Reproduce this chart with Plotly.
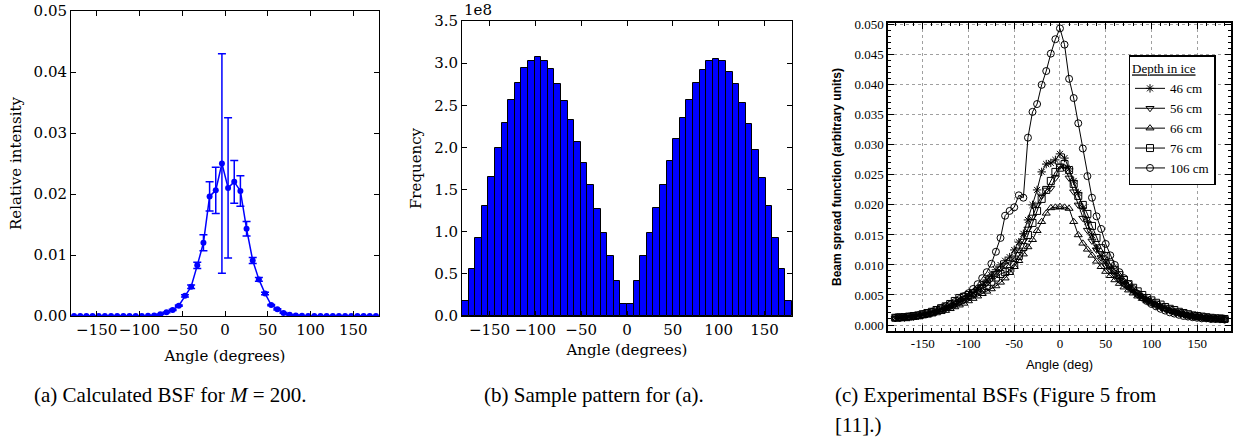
import plotly.graph_objects as go

# ---------------- Panel (a): calculated BSF ----------------
angle_bins = [-176.4, -169.2, -162.0, -154.8, -147.6, -140.4, -133.2, -126.0, -118.8, -111.6,
              -104.4, -97.2, -90.0, -82.8, -75.6, -68.4, -61.2, -54.0, -46.8, -39.6,
              -32.4, -25.2, -18.0, -10.8, -3.6, 3.6, 10.8, 18.0, 25.2, 32.4,
              39.6, 46.8, 54.0, 61.2, 68.4, 75.6, 82.8, 90.0, 97.2, 104.4,
              111.6, 118.8, 126.0, 133.2, 140.4, 147.6, 154.8, 162.0, 169.2, 176.4]

bsf_intensity = [0.0, 0.0, 0.0, 0.0, 0.0, 0.0, 0.0, 0.0, 0.0, 0.0,
                 0.0, 0.0, 0.00003, 0.0001, 0.0003, 0.0006, 0.0010, 0.0017, 0.0033, 0.0048,
                 0.0083, 0.0120, 0.0196, 0.0206, 0.0250, 0.0210, 0.0220, 0.0205, 0.0143, 0.0091,
                 0.0060, 0.0037, 0.0018, 0.0011, 0.0005, 0.0002, 0.0001, 0.00003, 0.0, 0.0,
                 0.0, 0.0, 0.0, 0.0, 0.0, 0.0, 0.0, 0.0, 0.0, 0.0]

bsf_error = [0.0, 0.0, 0.0, 0.0, 0.0, 0.0, 0.0, 0.0, 0.0, 0.0,
             0.0, 0.0, 0.0, 0.00002, 0.00004, 0.00006, 0.0001, 0.0001, 0.0002, 0.0003,
             0.0005, 0.0013, 0.0024, 0.0038, 0.0180, 0.0115, 0.0035, 0.0025, 0.0012, 0.0005,
             0.0003, 0.0002, 0.0001, 0.0001, 0.00006, 0.00004, 0.00002, 0.0, 0.0, 0.0,
             0.0, 0.0, 0.0, 0.0, 0.0, 0.0, 0.0, 0.0, 0.0, 0.0]

# ---------------- Panel (b): sample pattern (units of 1e8) ----------------
pattern_freq_1e8 = [0.18, 0.56, 0.93, 1.31, 1.65, 1.99, 2.29, 2.56, 2.77, 2.94,
                    3.02, 3.07, 3.02, 2.93, 2.75, 2.55, 2.32, 2.07, 1.82, 1.56,
                    1.27, 0.98, 0.71, 0.42, 0.14, 0.14, 0.42, 0.71, 0.98, 1.28,
                    1.56, 1.84, 2.10, 2.35, 2.56, 2.76, 2.92, 3.03, 3.05, 3.03,
                    2.90, 2.75, 2.53, 2.28, 1.97, 1.64, 1.30, 0.93, 0.56, 0.18]
bin_width = 7.2

# ---------------- Panel (c): experimental BSFs ----------------
exp_angles = [-180, -175, -170, -165, -160, -155, -150, -145, -140, -135,
              -130, -125, -120, -115, -110, -105, -100, -95, -90, -85,
              -80, -75, -70, -65, -60, -55, -50, -45, -40, -35,
              -30, -25, -20, -15, -10, -5, 0, 5, 10, 15,
              20, 25, 30, 35, 40, 45, 50, 55, 60, 65,
              70, 75, 80, 85, 90, 95, 100, 105, 110, 115,
              120, 125, 130, 135, 140, 145, 150, 155, 160, 165,
              170, 175, 180]

bsf_46cm = [0.0012, 0.0012, 0.0013, 0.0013, 0.0014, 0.0016, 0.0017, 0.0019, 0.0021, 0.0023,
            0.0026, 0.0028, 0.0031, 0.0035, 0.0039, 0.0043, 0.0048, 0.0054, 0.0060, 0.0067,
            0.0075, 0.0083, 0.0092, 0.0100, 0.0107, 0.0113, 0.0125, 0.0138, 0.0152, 0.0175,
            0.0200, 0.0225, 0.0255, 0.0268, 0.0270, 0.0275, 0.0285, 0.0278, 0.0260, 0.0240,
            0.0220, 0.0195, 0.0172, 0.0150, 0.0128, 0.0115, 0.0105, 0.0095, 0.0086, 0.0078,
            0.0071, 0.0065, 0.0058, 0.0052, 0.0047, 0.0043, 0.0039, 0.0035, 0.0031, 0.0028,
            0.0025, 0.0022, 0.0020, 0.0018, 0.0016, 0.0015, 0.0014, 0.0013, 0.0012, 0.0011,
            0.0011, 0.0010, 0.0010]

bsf_56cm = [0.0011, 0.0012, 0.0012, 0.0013, 0.0014, 0.0015, 0.0016, 0.0018, 0.0020, 0.0022,
            0.0024, 0.0027, 0.0030, 0.0033, 0.0037, 0.0041, 0.0046, 0.0051, 0.0057, 0.0063,
            0.0070, 0.0078, 0.0086, 0.0094, 0.0100, 0.0105, 0.0112, 0.0125, 0.0140, 0.0160,
            0.0180, 0.0200, 0.0215, 0.0225, 0.0228, 0.0245, 0.0265, 0.0262, 0.0245, 0.0222,
            0.0200, 0.0178, 0.0158, 0.0140, 0.0125, 0.0112, 0.0100, 0.0091, 0.0083, 0.0075,
            0.0068, 0.0062, 0.0056, 0.0050, 0.0045, 0.0041, 0.0037, 0.0033, 0.0030, 0.0027,
            0.0024, 0.0022, 0.0020, 0.0018, 0.0016, 0.0015, 0.0014, 0.0013, 0.0012, 0.0011,
            0.0011, 0.0010, 0.0010]

bsf_66cm = [0.0011, 0.0011, 0.0012, 0.0012, 0.0013, 0.0014, 0.0015, 0.0016, 0.0018, 0.0020,
            0.0022, 0.0024, 0.0027, 0.0030, 0.0033, 0.0036, 0.0040, 0.0044, 0.0048, 0.0052,
            0.0056, 0.0060, 0.0065, 0.0071, 0.0078, 0.0087, 0.0097, 0.0107, 0.0118, 0.0130,
            0.0142, 0.0157, 0.0172, 0.0186, 0.0195, 0.0196, 0.0197, 0.0196, 0.0194, 0.0172,
            0.0150, 0.0136, 0.0126, 0.0116, 0.0106, 0.0097, 0.0089, 0.0082, 0.0075, 0.0069,
            0.0063, 0.0058, 0.0053, 0.0048, 0.0044, 0.0040, 0.0036, 0.0033, 0.0030, 0.0027,
            0.0024, 0.0022, 0.0020, 0.0018, 0.0016, 0.0015, 0.0014, 0.0013, 0.0012, 0.0011,
            0.0010, 0.0010, 0.0009]

bsf_76cm = [0.0012, 0.0013, 0.0013, 0.0014, 0.0015, 0.0016, 0.0018, 0.0020, 0.0022, 0.0025,
            0.0028, 0.0031, 0.0035, 0.0040, 0.0045, 0.0047, 0.0050, 0.0053, 0.0057, 0.0061,
            0.0065, 0.0072, 0.0079, 0.0085, 0.0088, 0.0090, 0.0100, 0.0115, 0.0130, 0.0150,
            0.0170, 0.0190, 0.0210, 0.0225, 0.0240, 0.0255, 0.0262, 0.0268, 0.0258, 0.0235,
            0.0215, 0.0200, 0.0185, 0.0165, 0.0145, 0.0128, 0.0115, 0.0102, 0.0092, 0.0083,
            0.0075, 0.0068, 0.0062, 0.0056, 0.0050, 0.0045, 0.0041, 0.0037, 0.0034, 0.0030,
            0.0027, 0.0025, 0.0022, 0.0020, 0.0018, 0.0016, 0.0015, 0.0014, 0.0013, 0.0012,
            0.0011, 0.0011, 0.0010]

bsf_106cm = [0.0012, 0.0012, 0.0013, 0.0014, 0.0015, 0.0016, 0.0018, 0.0020, 0.0022, 0.0025,
             0.0028, 0.0031, 0.0034, 0.0038, 0.0043, 0.0048, 0.0053, 0.0060, 0.0068, 0.0078,
             0.0088, 0.0102, 0.0122, 0.0145, 0.0182, 0.0190, 0.0196, 0.0216, 0.0212, 0.0312,
             0.0355, 0.0368, 0.0400, 0.0423, 0.0452, 0.0476, 0.0494, 0.0467, 0.0410, 0.0378,
             0.0336, 0.0294, 0.0248, 0.0212, 0.0181, 0.0160, 0.0135, 0.0116, 0.0100, 0.0088,
             0.0078, 0.0068, 0.0060, 0.0052, 0.0046, 0.0040, 0.0035, 0.0031, 0.0027, 0.0024,
             0.0021, 0.0019, 0.0017, 0.0015, 0.0014, 0.0013, 0.0012, 0.0011, 0.0011, 0.0010,
             0.0010, 0.0010, 0.0009]

depth_labels = ["46 cm", "56 cm", "66 cm", "76 cm", "106 cm"]
depth_series = [bsf_46cm, bsf_56cm, bsf_66cm, bsf_76cm, bsf_106cm]
depth_symbols = ["asterisk-open", "triangle-down-open", "triangle-up-open", "square-open", "circle-open"]

angle_ticks = [-150, -100, -50, 0, 50, 100, 150]
angle_ticktext_mpl = ["\u2212150", "\u2212100", "\u221250", "0", "50", "100", "150"]
angle_ticktext_c = ["-150", "-100", "-50", "0", "50", "100", "150"]

W, H = 1250, 442


def px_x(X):
    return X / W


def px_y(Y):
    return 1 - Y / H


def xdom(l, r):
    return [px_x(l), px_x(r)]


def ydom(top, bottom):
    return [px_y(bottom), px_y(top)]


fig = go.Figure()

fig.add_trace(go.Scatter(
    x=angle_bins, y=bsf_intensity, mode="lines+markers",
    line=dict(color="blue", width=1.5),
    marker=dict(color="blue", size=6),
    error_y=dict(type="data", array=bsf_error, color="blue", thickness=1.5, width=4),
    xaxis="x", yaxis="y", showlegend=False))

fig.add_trace(go.Bar(
    x=angle_bins, y=pattern_freq_1e8, width=bin_width,
    marker=dict(color="blue", line=dict(color="black", width=1)),
    xaxis="x2", yaxis="y2", showlegend=False))

for label, series, sym in zip(depth_labels, depth_series, depth_symbols):
    fig.add_trace(go.Scatter(
        x=exp_angles, y=series, mode="lines+markers", name=label,
        line=dict(color="black", width=1),
        marker=dict(symbol=sym, size=7, color="black", line=dict(color="black", width=1)),
        xaxis="x3", yaxis="y3"))

mpl_font = dict(family="DejaVu Serif", size=15, color="black")
common_mpl = dict(showline=True, linecolor="black", linewidth=1, mirror="allticks",
                  ticks="inside", ticklen=5, tickcolor="black", tickwidth=1, tickangle=0,
                  showgrid=False, zeroline=False, tickfont=mpl_font, automargin=False)

c_tickfont = dict(family="Liberation Serif", size=13, color="black")
common_c = dict(showline=True, linecolor="black", linewidth=1.5, mirror="allticks",
                ticks="inside", ticklen=6, tickcolor="black", tickwidth=1, tickangle=0,
                showgrid=True, gridcolor="#a0a0a0", griddash="dot", gridwidth=1,
                zeroline=False, tickfont=c_tickfont, automargin=False)

fig.update_layout(
    width=W, height=H, margin=dict(l=0, r=0, t=0, b=0, autoexpand=False),
    paper_bgcolor="white", plot_bgcolor="white", bargap=0,
    xaxis=dict(domain=xdom(71, 379), range=[-180, 180], tickvals=angle_ticks,
               ticktext=angle_ticktext_mpl, anchor="y",
               title=dict(text="Angle (degrees)", font=mpl_font, standoff=12), **common_mpl),
    yaxis=dict(domain=ydom(11, 316), range=[0, 0.05], dtick=0.01, tickformat=".2f", anchor="x",
               title=dict(text="Relative intensity", font=mpl_font, standoff=8), **common_mpl),
    xaxis2=dict(domain=xdom(462, 792), range=[-180, 180], tickvals=angle_ticks,
                ticktext=angle_ticktext_mpl, anchor="y2",
                title=dict(text="Angle (degrees)", font=mpl_font, standoff=6), **common_mpl),
    yaxis2=dict(domain=ydom(21, 316), range=[0, 3.5], dtick=0.5, tickformat=".1f", anchor="x2",
                title=dict(text="Frequency", font=mpl_font, standoff=8), **common_mpl),
    xaxis3=dict(domain=xdom(888, 1231), range=[-188, 187], tickvals=angle_ticks,
                ticktext=angle_ticktext_c, anchor="y3",
                minor=dict(dtick=10, ticks="inside", ticklen=3, tickcolor="black", showgrid=False),
                title=dict(text="Angle (deg)", standoff=10,
                           font=dict(family="Liberation Sans", size=13, color="black")),
                **common_c),
    yaxis3=dict(domain=ydom(23, 331), range=[-0.001, 0.0503], dtick=0.005, tick0=0,
                tickformat=".3f", anchor="x3",
                minor=dict(dtick=0.001, ticks="inside", ticklen=3, tickcolor="black", showgrid=False),
                title=dict(text="<b>Beam spread function (arbitrary units)</b>", standoff=10,
                           font=dict(family="Liberation Sans", size=12, color="black")),
                **common_c),
    legend=dict(x=px_x(1172), y=px_y(55), xanchor="center", yanchor="top",
                bgcolor="white", bordercolor="black", borderwidth=1.5,
                font=dict(family="Liberation Serif", size=13, color="black"),
                title=dict(text="<u>Depth in ice</u>",
                           font=dict(family="Liberation Serif", size=13, color="black")),
                tracegroupgap=0, itemwidth=30),
)

fig.add_annotation(text="1e8", xref="paper", yref="paper", x=px_x(462), y=px_y(21),
                   xanchor="left", yanchor="bottom", showarrow=False, font=mpl_font)

cap_font = dict(family="Liberation Serif", size=21, color="black")
fig.add_annotation(text="(a) Calculated BSF for <i>M</i> = 200.", xref="paper", yref="paper",
                   x=px_x(170), y=px_y(395), xanchor="center", yanchor="middle",
                   showarrow=False, font=cap_font)
fig.add_annotation(text="(b) Sample pattern for (a).", xref="paper", yref="paper",
                   x=px_x(594), y=px_y(395), xanchor="center", yanchor="middle",
                   showarrow=False, font=cap_font)
fig.add_annotation(text="(c) Experimental BSFs (Figure 5 from", xref="paper", yref="paper",
                   x=px_x(833), y=px_y(395), xanchor="left", yanchor="middle", align="left",
                   showarrow=False, font=cap_font)
fig.add_annotation(text="[11].)", xref="paper", yref="paper",
                   x=px_x(833), y=px_y(425), xanchor="left", yanchor="middle", align="left",
                   showarrow=False, font=cap_font)

# remove the browser's default 8px body margin so the figure sits at the page origin
fig.write_html("out.html", config={"displayModeBar": False},
               post_script="document.body.style.margin='0px';")
